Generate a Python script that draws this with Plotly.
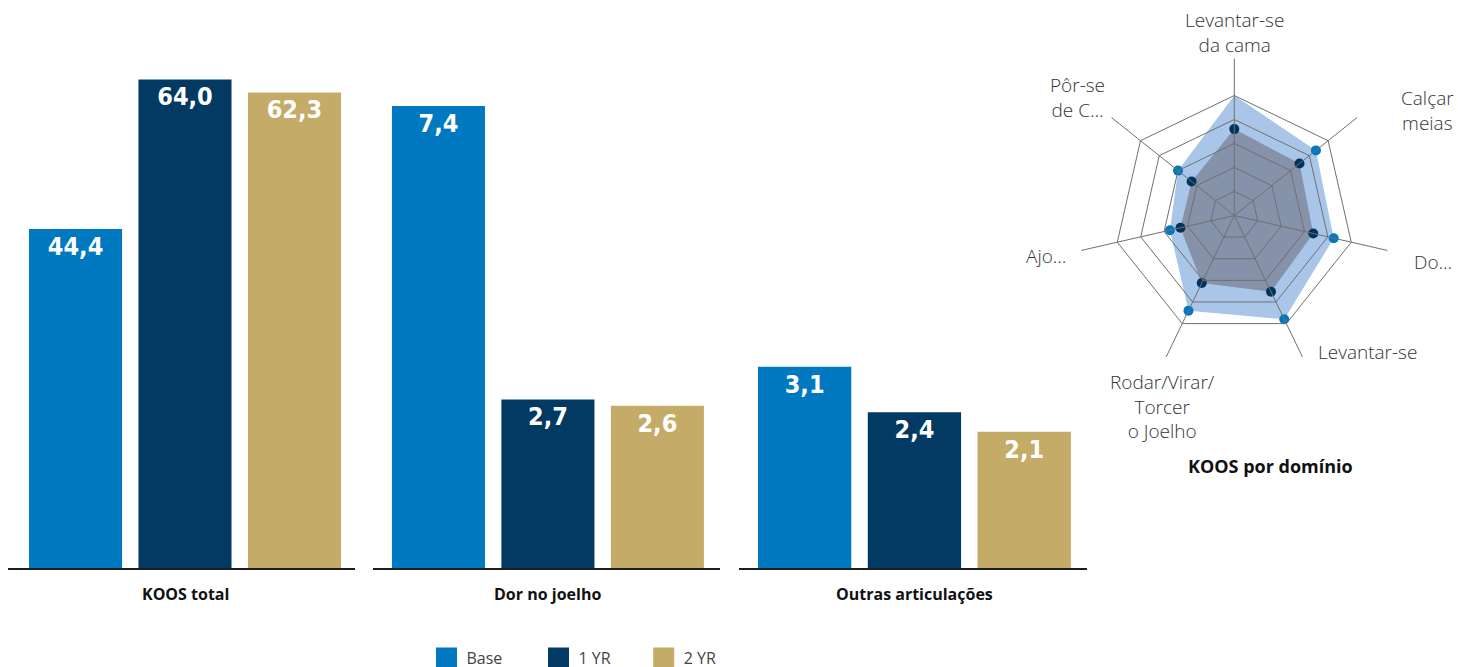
import plotly.graph_objects as go

# ---------------- data ----------------
groups = ["KOOS total", "Dor no joelho", "Outras articulações"]
series = ["Base", "1 YR", "2 YR"]
base_vals = [44.4, 7.4, 3.1]
yr1_vals = [64.0, 2.7, 2.4]
yr2_vals = [62.3, 2.6, 2.1]

radar_cats = ["Levantar-se<br>da cama", "Calçar<br>meias", "Do…", "Levantar-se",
              "Rodar/Virar/<br>Torcer<br>o Joelho", "Ajo…", "Pôr-se<br>de C…"]
radar_base = [100, 87, 85, 96, 88, 55, 60]
radar_yr1 = [72, 69.5, 67.5, 70.5, 62.5, 46, 45.5]
radar_ticks = [20, 40, 60, 80, 100]

# ---------------- style ----------------
colors = ["#0079C1", "#023A63", "#C4AB68"]
W, H = 1458, 667
FIG_H = 675
x_domains = [(8, 355), (373, 720), (739, 1087)]  # px
x_left = [-0.617, -0.598, -0.598]
y_ranges = [74.4, 9.1, 8.75]
base_px = 568
label_font = "DejaVu Sans Condensed"
text_font = "Open Sans, Noto Sans, sans-serif"

all_vals = [base_vals, yr1_vals, yr2_vals]

fig = go.Figure()

for g in range(len(groups)):
    ax = "" if g == 0 else str(g + 1)
    for s in range(len(series)):
        fig.add_trace(go.Bar(
            x=[s], y=[all_vals[s][g]], name=series[s],
            xaxis="x" + ax, yaxis="y" + ax,
            marker=dict(color=colors[s], line=dict(width=0)),
            width=0.85, showlegend=False,
            texttemplate="%{y:.1f}", textposition="inside",
            insidetextanchor="end", textangle=0,
            textfont=dict(family=label_font, size=25, color="white", weight="bold"),
            hoverinfo="skip",
        ))
    fig.update_layout({
        "xaxis" + ax: dict(domain=[x_domains[g][0] / W, x_domains[g][1] / W],
                           range=[x_left[g], x_left[g] + 3.17], showgrid=False,
                           zeroline=False, showticklabels=False, ticks="",
                           showline=True, linecolor="#1e1e1e", linewidth=2,
                           anchor="y" + ax, fixedrange=True),
        "yaxis" + ax: dict(domain=[(H - base_px) / H, 1], range=[0, y_ranges[g]],
                           showgrid=False, zeroline=False, showticklabels=False,
                           ticks="", showline=False, anchor="x" + ax, fixedrange=True),
    })
    fig.add_annotation(x=1, xref="x" + ax, y=(H - 594) / H, yref="paper",
                       text="<b>" + groups[g] + "</b>", showarrow=False,
                       font=dict(family=text_font, size=16, color="#111"),
                       xanchor="center", yanchor="middle")

# legend entries (one legend per series so each can be placed)
legend_left = [426.5, 538.5, 643.7]
for s in range(len(series)):
    lg = "legend" if s == 0 else "legend" + str(s + 1)
    fig.add_trace(go.Scatter(
        x=[None], y=[None], mode="markers", name=series[s], legend=lg,
        marker=dict(symbol="square", size=16, color=colors[s],
                    line=dict(color=colors[s], width=5)),
        hoverinfo="skip",
    ))
    fig.update_layout({lg: dict(x=legend_left[s] / W, xanchor="left",
                                y=(H - 658) / H, yanchor="middle",
                                orientation="h", bgcolor="rgba(0,0,0,0)",
                                borderwidth=0,
                                font=dict(family=text_font, size=16, color="#444"))})

# ---------------- radar ----------------
cx, cy, R = 1234.3, 215.5, 157
rmax = 100 * R / 120
pdom = dict(x=[(cx - R) / W, (cx + R) / W], y=[(H - cy - R) / H, (H - cy + R) / H])

fig.add_trace(go.Scatterpolar(
    r=radar_base, theta=radar_cats, subplot="polar", fill="toself",
    fillcolor="#A9C6E9", mode="markers", line=dict(width=0, color="#A9C6E9"),
    marker=dict(color="#0079C1", size=[0, 10, 10, 10, 10, 10, 10],
                line=dict(width=0), opacity=1),
    showlegend=False, hoverinfo="skip",
))
fig.add_trace(go.Scatterpolar(
    r=radar_yr1, theta=radar_cats, subplot="polar", fill="toself",
    fillcolor="#8592AA", mode="markers", line=dict(width=0, color="#8592AA"),
    marker=dict(color="#02335C", size=10, line=dict(width=0), opacity=1),
    showlegend=False, hoverinfo="skip",
))
# grid overlay subplot (drawn above the fills)
fig.add_trace(go.Scatterpolar(
    r=radar_base, theta=radar_cats, subplot="polar2", mode="markers",
    marker=dict(size=1, opacity=0), showlegend=False, hoverinfo="skip",
))

polar_common = dict(domain=pdom, bgcolor="rgba(0,0,0,0)", gridshape="linear")
fig.update_layout(
    polar=dict(**polar_common,
               radialaxis=dict(range=[0, rmax], showgrid=False, showline=False,
                               showticklabels=False, ticks=""),
               angularaxis=dict(direction="clockwise", rotation=90, showgrid=False,
                                showline=False, showticklabels=False, ticks="")),
    polar2=dict(**polar_common,
                radialaxis=dict(range=[0, rmax], tickvals=radar_ticks, showgrid=True,
                                gridcolor="#707070", gridwidth=1, showline=False,
                                showticklabels=False, ticks=""),
                angularaxis=dict(direction="clockwise", rotation=90, showgrid=True,
                                 gridcolor="#707070", gridwidth=1, showline=False,
                                 ticks="", showticklabels=False)),
)

# radar category labels (placed around the chart)
label_pos = [(1234, 32, "center"), (1427, 111, "center"), (1412, 262, "left"),
             (1316, 352, "left"), (1162, 406, "center"), (1068, 256, "right"),
             (1077, 98, "center")]
for cat, (lx, ly, anc) in zip(radar_cats, label_pos):
    fig.add_annotation(x=lx / W, y=(H - ly) / H, xref="paper", yref="paper",
                       text=cat, showarrow=False, align="center",
                       xanchor=anc, yanchor="middle",
                       font=dict(family=text_font, size=19, color="#333", weight=300))

fig.add_annotation(x=1270 / W, y=(H - 466) / H, xref="paper", yref="paper",
                   text="<b>KOOS por domínio</b>", showarrow=False,
                   font=dict(family=text_font, size=18, color="#111"),
                   xanchor="center", yanchor="middle")

fig.update_layout(
    width=W, height=FIG_H, margin=dict(l=0, r=0, t=0, b=0),
    paper_bgcolor="white", plot_bgcolor="white",
    separators=", ", barmode="overlay",
)

fig.write_html("out.html")
